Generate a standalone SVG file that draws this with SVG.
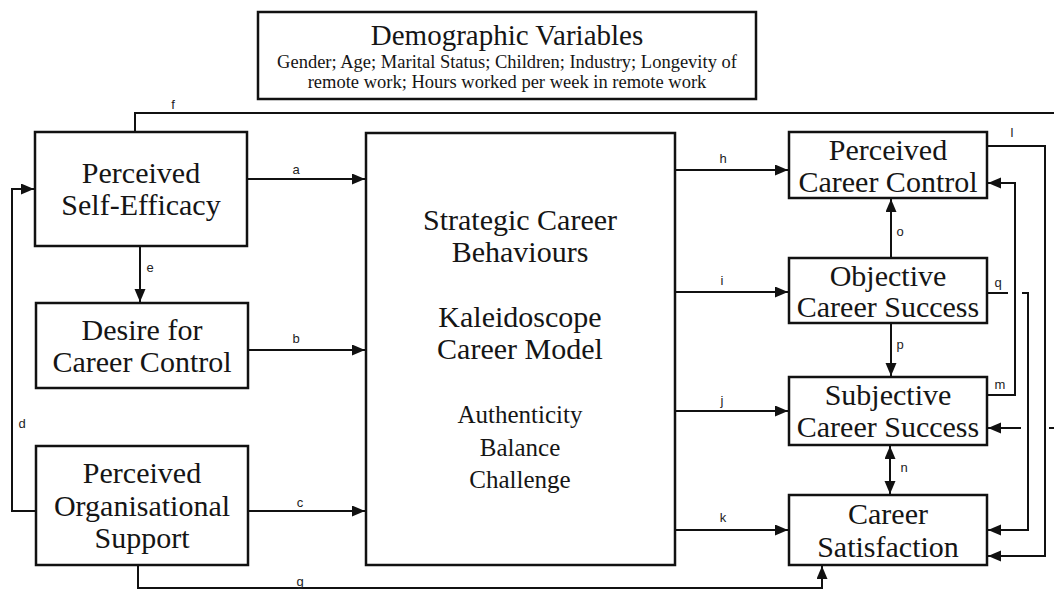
<svg xmlns="http://www.w3.org/2000/svg" width="1054" height="590" viewBox="0 0 1054 590">
<style>
.box{fill:#fff;stroke:#111;stroke-width:2.5}
.t{font-family:"Liberation Serif","Times New Roman",serif;fill:#151515;text-anchor:middle}
.big{font-size:30px}
.mid{font-size:25px}
.sm{font-size:18.5px}
.lbl{font-family:"Liberation Sans",Arial,sans-serif;font-size:13px;fill:#222;text-anchor:middle}
.c{fill:none;stroke:#111;stroke-width:2}
</style>
<defs>
<marker id="ah" markerUnits="userSpaceOnUse" markerWidth="14" markerHeight="12" refX="13" refY="5.5" orient="auto-start-reverse">
<path d="M0,0 L13,5.5 L0,11 z" fill="#111"/>
</marker>
</defs>
<rect width="1054" height="590" fill="#fff"/>

<g id="connectors">
<path class="c" d="M247,179 H365" marker-end="url(#ah)"/>
<path class="c" d="M248,350 H365" marker-end="url(#ah)"/>
<path class="c" d="M248,511 H365" marker-end="url(#ah)"/>
<path class="c" d="M36,511 H12 V189 H34" marker-end="url(#ah)"/>
<path class="c" d="M140,246 V302" marker-end="url(#ah)"/>
<path class="c" d="M135,132 V113 H1054"/>
<path class="c" d="M138,565 V588 H822 V566" marker-end="url(#ah)"/>
<path class="c" d="M675,170 H788" marker-end="url(#ah)"/>
<path class="c" d="M675,292 H788" marker-end="url(#ah)"/>
<path class="c" d="M675,411 H788" marker-end="url(#ah)"/>
<path class="c" d="M675,530 H788" marker-end="url(#ah)"/>
<path class="c" d="M891,258 V199" marker-end="url(#ah)"/>
<path class="c" d="M891,323 V376" marker-end="url(#ah)"/>
<path class="c" d="M890,446 V494" marker-start="url(#ah)" marker-end="url(#ah)"/>
<path class="c" d="M987,146 H1045 V556 H988" marker-end="url(#ah)"/>
<path class="c" d="M987,395 H1015 V183 H988" marker-end="url(#ah)"/>
<path class="c" d="M987,293 H1008"/>
<path class="c" d="M1022,293 H1028 V530 H988" marker-end="url(#ah)"/>
<path class="c" d="M1021,428 H988" marker-end="url(#ah)"/>
<path class="c" d="M1049,428 H1054"/>
<text class="lbl" x="296" y="174">a</text>
<text class="lbl" x="296" y="343">b</text>
<text class="lbl" x="300" y="507">c</text>
<text class="lbl" x="22" y="428">d</text>
<text class="lbl" x="150" y="272">e</text>
<text class="lbl" x="173" y="109">f</text>
<text class="lbl" x="300" y="586">g</text>
<text class="lbl" x="723" y="163">h</text>
<text class="lbl" x="722" y="285">i</text>
<text class="lbl" x="722" y="405">j</text>
<text class="lbl" x="723" y="522">k</text>
<text class="lbl" x="1012" y="137">l</text>
<text class="lbl" x="1000" y="389">m</text>
<text class="lbl" x="998" y="287">q</text>
<text class="lbl" x="900" y="236">o</text>
<text class="lbl" x="900" y="349">p</text>
<text class="lbl" x="904" y="472">n</text>
</g>

<g id="demographic">
<rect class="box" x="258" y="12" width="498" height="87"/>
<text class="t big" x="507" y="45" style="font-size:29px">Demographic Variables</text>
<text class="t sm" x="507" y="68">Gender; Age; Marital Status; Children; Industry; Longevity of</text>
<text class="t sm" x="507" y="88">remote work; Hours worked per week in remote work</text>
</g>

<g id="self-efficacy">
<rect class="box" x="35" y="132" width="212" height="114"/>
<text class="t big" x="141" y="183">Perceived</text>
<text class="t big" x="141" y="215">Self-Efficacy</text>
</g>

<g id="desire">
<rect class="box" x="36" y="303" width="212" height="85"/>
<text class="t big" x="142" y="340">Desire for</text>
<text class="t big" x="142" y="372">Career Control</text>
</g>

<g id="org-support">
<rect class="box" x="36" y="446" width="212" height="119"/>
<text class="t big" x="142" y="483">Perceived</text>
<text class="t big" x="142" y="516">Organisational</text>
<text class="t big" x="142" y="548">Support</text>
</g>

<g id="strategic">
<rect class="box" x="366" y="133" width="309" height="432"/>
<text class="t big" x="520" y="230">Strategic Career</text>
<text class="t big" x="520" y="262">Behaviours</text>
<text class="t big" x="520" y="327">Kaleidoscope</text>
<text class="t big" x="520" y="359">Career Model</text>
<text class="t mid" x="520" y="423">Authenticity</text>
<text class="t mid" x="520" y="456">Balance</text>
<text class="t mid" x="520" y="488">Challenge</text>
</g>

<g id="career-control">
<rect class="box" x="789" y="132" width="198" height="66"/>
<text class="t big" x="888" y="160">Perceived</text>
<text class="t big" x="888" y="192">Career Control</text>
</g>

<g id="objective">
<rect class="box" x="789" y="258" width="198" height="65"/>
<text class="t big" x="888" y="286">Objective</text>
<text class="t big" x="888" y="317">Career Success</text>
</g>

<g id="subjective">
<rect class="box" x="789" y="377" width="198" height="68"/>
<text class="t big" x="888" y="405">Subjective</text>
<text class="t big" x="888" y="437">Career Success</text>
</g>

<g id="satisfaction">
<rect class="box" x="789" y="495" width="198" height="70"/>
<text class="t big" x="888" y="524">Career</text>
<text class="t big" x="888" y="557">Satisfaction</text>
</g>
</svg>
